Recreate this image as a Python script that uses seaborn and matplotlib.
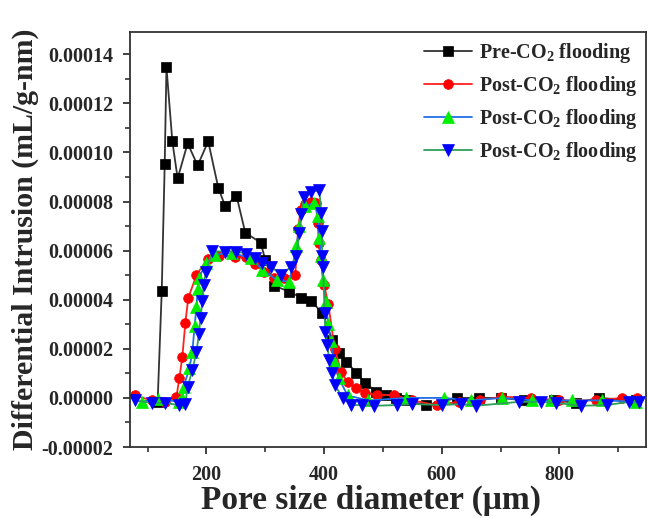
import matplotlib
matplotlib.use("Agg")
import matplotlib.pyplot as plt
from matplotlib.ticker import MultipleLocator, FormatStrFormatter
import seaborn as sns

# pore size (um) and differential intrusion (mL/g-nm)
pre_x = [117, 124, 129, 132, 142, 151, 168, 185, 203, 220, 232, 251, 266, 292,
         300, 315, 341, 361, 377, 397, 414, 426, 438, 455, 470, 489, 505, 522,
         540, 573, 626, 663, 701, 740, 790, 828, 867, 930]
pre_y = [-1.6e-6, 4.37e-5, 9.51e-5, 1.347e-4, 1.045e-4, 8.94e-5, 1.037e-4, 9.47e-5,
         1.045e-4, 8.57e-5, 7.8e-5, 8.24e-5, 6.73e-5, 6.33e-5, 5.63e-5, 4.57e-5,
         4.33e-5, 4.08e-5, 3.96e-5, 3.47e-5, 2.37e-5, 1.84e-5, 1.47e-5, 1.02e-5,
         6.1e-6, 2.4e-6, 1.0e-6, 0.0, -1.0e-6, -3.0e-6, 0.0, 0.0, 0.0, -1.0e-6,
         -1.0e-6, -2.0e-6, 0.0, -1.0e-6]

post1_x = [78, 107, 130, 149, 154, 159, 164, 169, 183, 202, 222, 248, 268, 283,
           298, 315, 332, 351, 356, 360, 368, 377, 386, 389, 391, 394, 400, 407,
           418, 429, 440, 455, 470, 490, 519, 550, 592, 630, 665, 701, 752, 800,
           862, 906, 932]
post1_y = [1.0e-6, -1.0e-6, -1.5e-6, 5.0e-7, 8.2e-6, 1.67e-5, 3.04e-5, 4.06e-5,
           5.01e-5, 5.67e-5, 5.8e-5, 5.76e-5, 5.76e-5, 5.45e-5, 5.14e-5, 4.9e-5,
           4.9e-5, 5.02e-5, 6.9e-5, 7.67e-5, 7.9e-5, 8.0e-5, 7.95e-5, 7.14e-5,
           6.33e-5, 5.63e-5, 4.6e-5, 3.84e-5, 2.0e-5, 1.06e-5, 6.3e-6, 4.0e-6,
           2.0e-6, 1.2e-6, 1.2e-6, -1.0e-6, -3.0e-6, -1.5e-6, -1.0e-6, 5.0e-7,
           0.0, -1.0e-6, -1.0e-6, 0.0, 0.0]

post2_x = [90, 117, 154, 158, 161, 171, 176, 180, 183, 185, 187, 200, 214, 244,
           276, 295, 320, 341, 353, 358, 368, 383, 390, 392, 395, 398, 403, 407,
           411, 417, 425, 440, 475, 540, 604, 650, 703, 754, 786, 821, 872, 930]
post2_y = [-1.5e-6, -5.0e-7, -1.5e-6, 0.0, 4.5e-6, 1.2e-5, 1.88e-5, 2.95e-5,
           3.7e-5, 4.45e-5, 4.9e-5, 5.5e-5, 5.84e-5, 5.9e-5, 5.7e-5, 5.22e-5,
           4.8e-5, 4.73e-5, 6.2e-5, 7.0e-5, 7.8e-5, 7.96e-5, 7.4e-5, 6.5e-5,
           5.8e-5, 4.8e-5, 3.9e-5, 3.0e-5, 2.3e-5, 1.5e-5, 8.0e-6, 1.0e-6,
           -1.0e-6, 0.0, 0.0, -1.0e-6, 0.0, -1.0e-6, -1.0e-6, -1.0e-6, -1.0e-6,
           -1.5e-6]

post3_x = [78, 107, 130, 154, 164, 168, 176, 183, 187, 190, 193, 195, 199, 210,
           231, 251, 268, 282, 295, 310, 327, 344, 353, 358, 361, 366, 378, 392,
           395, 396, 397, 398, 401, 402, 405, 409, 414, 418, 432, 446, 465, 485,
           524, 550, 601, 633, 658, 731, 769, 794, 837, 881, 918, 935]
post3_y = [-1.0e-6, -2.0e-6, -2.0e-6, -3.0e-6, -2.5e-6, 4.5e-6, 1.14e-5, 1.86e-5,
           2.6e-5, 3.27e-5, 3.95e-5, 4.6e-5, 5.12e-5, 5.98e-5, 5.96e-5, 5.96e-5,
           5.88e-5, 5.7e-5, 5.5e-5, 5.35e-5, 5.0e-5, 5.35e-5, 5.8e-5, 6.7e-5,
           7.5e-5, 8.2e-5, 8.4e-5, 8.45e-5, 7.55e-5, 6.8e-5, 5.8e-5, 5.35e-5,
           3.47e-5, 2.7e-5, 2.16e-5, 1.55e-5, 1.02e-5, 5.3e-6, 0.0, -2.9e-6,
           -2.9e-6, -3.2e-6, -2.9e-6, -2.5e-6, -2.9e-6, -2.5e-6, -3.2e-6, -1.6e-6,
           -1.6e-6, -2.0e-6, -3.2e-6, -2.9e-6, -1.6e-6, -1.6e-6]

labels = [r'Pre-CO$_\mathbf{2}$ flooding', r'Post-CO$_\mathbf{2}$ flooding',
          r'Post-CO$_\mathbf{2}$ flooding', r'Post-CO$_\mathbf{2}$ flooding']

sns.set_style('ticks')
plt.rcParams['font.family'] = ['Liberation Serif', 'DejaVu Serif']
plt.rcParams['font.weight'] = 'bold'
plt.rcParams['mathtext.fontset'] = 'custom'
plt.rcParams['mathtext.rm'] = 'Liberation Serif:bold'
plt.rcParams['mathtext.bf'] = 'Liberation Serif:bold'

fig = plt.figure(figsize=(6.48, 5.18), dpi=100)
ax = fig.add_axes([0.2006, 0.137, 0.797, 0.801])

# (x, y, line colour, marker, marker colour, marker size)
series = [
    (pre_x, pre_y, '#333333', 's', '#000000', 7),
    (post1_x, post1_y, '#ff2020', 'o', '#ff0000', 7),
    (post2_x, post2_y, '#1f6fe8', '^', '#00ee00', 8),
    (post3_x, post3_y, '#2e9e5a', 'v', '#0000ff', 8),
]
for (xs, ys, lc, mk, mc, ms), lab in zip(series, labels):
    sns.lineplot(x=xs, y=ys, ax=ax, sort=False, color=lc, lw=1.3,
                 marker=mk, markersize=ms, markerfacecolor=mc,
                 markeredgecolor=mc, markeredgewidth=0.5, label=lab)

ax.set_xlim(70, 948)
ax.set_ylim(-0.00002, 0.000149)
ax.xaxis.set_major_locator(MultipleLocator(200))
ax.xaxis.set_minor_locator(MultipleLocator(100))
ax.yaxis.set_major_locator(MultipleLocator(0.00002))
ax.yaxis.set_minor_locator(MultipleLocator(0.00001))
ax.yaxis.set_major_formatter(FormatStrFormatter('%.5f'))

ax.tick_params(which='major', direction='out', length=5, width=1.3,
               labelsize=14.5, color='#333333')
ax.tick_params(axis='x', which='major', pad=8)
ax.tick_params(axis='y', which='major', pad=7)
ax.tick_params(which='minor', direction='out', length=3.5, width=1.2,
               color='#333333')
for lab in ax.get_xticklabels() + ax.get_yticklabels():
    lab.set_fontweight('bold')
for sp in ax.spines.values():
    sp.set_linewidth(1.3)
    sp.set_color('#333333')

ax.set_xlabel('Pore size diameter (\u03bcm)', fontsize=24, fontweight='bold', labelpad=1)
ax.xaxis.set_label_coords(0.466, -0.09, transform=ax.transAxes)
ax.xaxis.label.set_va('top')
ax.set_ylabel('Differential Intrusion (mL/g-nm)', fontsize=21.5, fontweight='bold')
ax.yaxis.set_label_coords(-0.176, 0.5, transform=ax.transAxes)

leg = ax.legend(loc='upper right', fontsize=14.5, frameon=False,
                borderaxespad=0.05, handlelength=2.4, handletextpad=0.3,
                labelspacing=0.45)

fig.savefig('out.png', dpi=100)
